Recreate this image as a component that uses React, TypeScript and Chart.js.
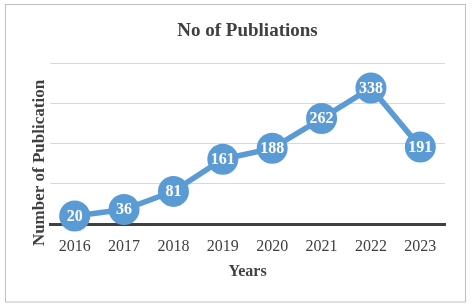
import React, { useEffect, useRef } from "react";
import { Chart, registerables } from "chart.js";

Chart.register(...registerables);

const years = ["2016", "2017", "2018", "2019", "2020", "2021", "2022", "2023"];
const publications = [20, 36, 81, 161, 188, 262, 338, 191];
const chartTitle = "No of Publiations";
const xTitle = "Years";
const yTitle = "Number of Publication";

const SERIF = "'Liberation Serif', 'Times New Roman', serif";
const TEXT = "#404040";
const BLUE = "#5B9BD5";

const framePlugin = {
  id: "frame",
  beforeDraw(chart: any) {
    const { ctx, width, height } = chart;
    ctx.save();
    ctx.fillStyle = "#ffffff";
    ctx.fillRect(0, 0, width, height);
    ctx.strokeStyle = "#bfbfbf";
    ctx.lineWidth = 1;
    ctx.strokeRect(5.5, 4.5, 460, 297.5);
    ctx.restore();
  },
};

const yTitlePlugin = {
  id: "yTitle",
  afterDraw(chart: any) {
    const { ctx } = chart;
    ctx.save();
    ctx.translate(39.5, 163);
    ctx.rotate(-Math.PI / 2);
    ctx.font = `bold 17px ${SERIF}`;
    ctx.fillStyle = TEXT;
    ctx.textAlign = "center";
    ctx.textBaseline = "middle";
    ctx.fillText(yTitle, 0, 0);
    ctx.restore();
  },
};

const valueLabelPlugin = {
  id: "valueLabels",
  afterDatasetsDraw(chart: any) {
    const { ctx } = chart;
    const meta = chart.getDatasetMeta(0);
    const data = chart.data.datasets[0].data as number[];
    ctx.save();
    ctx.font = `bold 16px ${SERIF}`;
    ctx.fillStyle = "#ffffff";
    ctx.textAlign = "center";
    ctx.textBaseline = "middle";
    meta.data.forEach((pt: any, i: number) => {
      ctx.fillText(String(data[i]), pt.x, pt.y + 0.5);
    });
    ctx.restore();
  },
};

export default function App() {
  const ref = useRef<HTMLCanvasElement | null>(null);

  useEffect(() => {
    if (!ref.current) return;
    const chart = new Chart(ref.current, {
      type: "line",
      data: {
        labels: years,
        datasets: [
          {
            data: publications,
            borderColor: BLUE,
            backgroundColor: BLUE,
            borderWidth: 5.5,
            pointRadius: 15.5,
            pointHoverRadius: 15.5,
            pointBackgroundColor: BLUE,
            pointBorderColor: BLUE,
            pointBorderWidth: 0,
            tension: 0,
            clip: false as any,
          },
        ],
      },
      plugins: [framePlugin, yTitlePlugin, valueLabelPlugin],
      options: {
        responsive: false,
        animation: false,
        devicePixelRatio: 1,
        layout: { padding: { left: 50, right: 27, top: 10, bottom: 22.2 } },
        plugins: {
          legend: { display: false },
          tooltip: { enabled: false },
          title: {
            display: true,
            text: chartTitle,
            color: TEXT,
            font: { family: SERIF, size: 19, weight: "bold" },
            padding: { top: 10.1, bottom: 20.1 },
          },
        },
        scales: {
          x: {
            type: "category",
            offset: true,
            grid: { display: false, drawTicks: true, tickLength: 9.9 },
            border: { display: true, color: TEXT, width: 3 },
            ticks: { color: TEXT, padding: 3, font: { family: SERIF, size: 16 } },
            title: {
              display: true,
              text: xTitle,
              color: TEXT,
              font: { family: SERIF, size: 16, weight: "bold" },
              padding: { top: 3.5, bottom: 4 },
            },
          },
          y: {
            min: 0,
            max: 400,
            ticks: { display: false, stepSize: 100 },
            grid: { color: "#d9d9d9", lineWidth: 1, drawTicks: false },
            border: { display: false },
          },
        },
      },
    });
    return () => chart.destroy();
  }, []);

  return (
    <div style={{ position: "absolute", left: 0, top: 0, width: 472, height: 308 }}>
      <canvas ref={ref} width={472} height={308} style={{ width: 472, height: 308 }} />
    </div>
  );
}
